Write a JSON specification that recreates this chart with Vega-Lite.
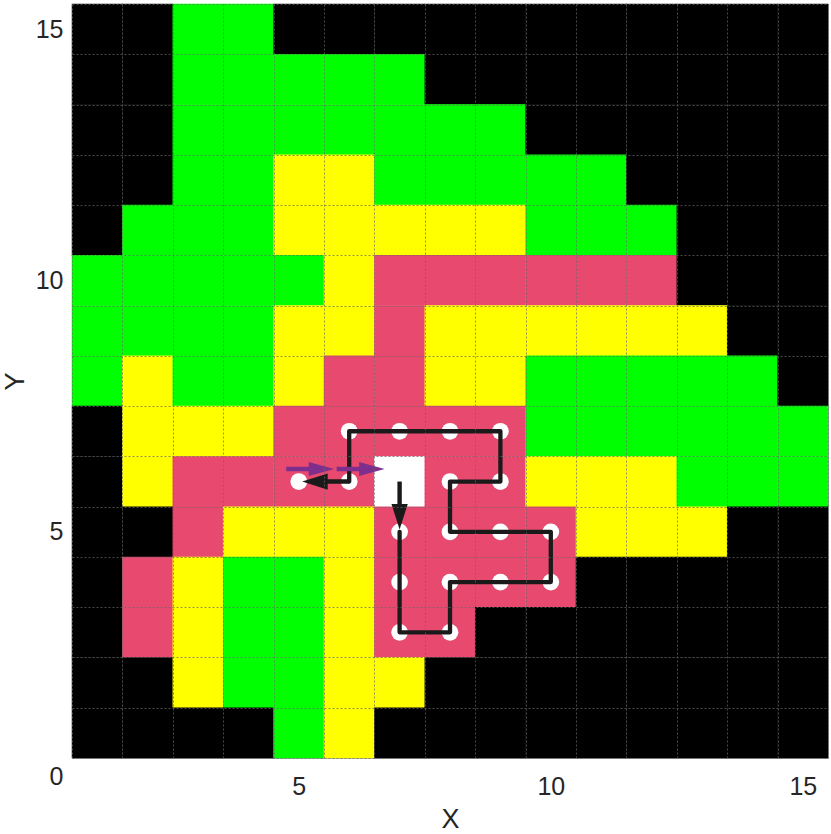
{
"$schema": "https://vega.github.io/schema/vega-lite/v6.json",
"width": 756, "height": 754,
"autosize": {"type": "none"},
"padding": {"left": 72, "top": 4, "right": 3, "bottom": 76},
"background": "white",
"config": {"view": {"stroke": "#a8a8a8", "strokeWidth": 1}, "font": "Liberation Sans"},
"datasets": {
"cells": [
{"x":1,"y":15,"c":"B"},{"x":2,"y":15,"c":"B"},{"x":3,"y":15,"c":"G"},{"x":4,"y":15,"c":"G"},{"x":5,"y":15,"c":"B"},{"x":6,"y":15,"c":"B"},{"x":7,"y":15,"c":"B"},{"x":8,"y":15,"c":"B"},{"x":9,"y":15,"c":"B"},{"x":10,"y":15,"c":"B"},{"x":11,"y":15,"c":"B"},{"x":12,"y":15,"c":"B"},{"x":13,"y":15,"c":"B"},{"x":14,"y":15,"c":"B"},{"x":15,"y":15,"c":"B"},
{"x":1,"y":14,"c":"B"},{"x":2,"y":14,"c":"B"},{"x":3,"y":14,"c":"G"},{"x":4,"y":14,"c":"G"},{"x":5,"y":14,"c":"G"},{"x":6,"y":14,"c":"G"},{"x":7,"y":14,"c":"G"},{"x":8,"y":14,"c":"B"},{"x":9,"y":14,"c":"B"},{"x":10,"y":14,"c":"B"},{"x":11,"y":14,"c":"B"},{"x":12,"y":14,"c":"B"},{"x":13,"y":14,"c":"B"},{"x":14,"y":14,"c":"B"},{"x":15,"y":14,"c":"B"},
{"x":1,"y":13,"c":"B"},{"x":2,"y":13,"c":"B"},{"x":3,"y":13,"c":"G"},{"x":4,"y":13,"c":"G"},{"x":5,"y":13,"c":"G"},{"x":6,"y":13,"c":"G"},{"x":7,"y":13,"c":"G"},{"x":8,"y":13,"c":"G"},{"x":9,"y":13,"c":"G"},{"x":10,"y":13,"c":"B"},{"x":11,"y":13,"c":"B"},{"x":12,"y":13,"c":"B"},{"x":13,"y":13,"c":"B"},{"x":14,"y":13,"c":"B"},{"x":15,"y":13,"c":"B"},
{"x":1,"y":12,"c":"B"},{"x":2,"y":12,"c":"B"},{"x":3,"y":12,"c":"G"},{"x":4,"y":12,"c":"G"},{"x":5,"y":12,"c":"Y"},{"x":6,"y":12,"c":"Y"},{"x":7,"y":12,"c":"G"},{"x":8,"y":12,"c":"G"},{"x":9,"y":12,"c":"G"},{"x":10,"y":12,"c":"G"},{"x":11,"y":12,"c":"G"},{"x":12,"y":12,"c":"B"},{"x":13,"y":12,"c":"B"},{"x":14,"y":12,"c":"B"},{"x":15,"y":12,"c":"B"},
{"x":1,"y":11,"c":"B"},{"x":2,"y":11,"c":"G"},{"x":3,"y":11,"c":"G"},{"x":4,"y":11,"c":"G"},{"x":5,"y":11,"c":"Y"},{"x":6,"y":11,"c":"Y"},{"x":7,"y":11,"c":"Y"},{"x":8,"y":11,"c":"Y"},{"x":9,"y":11,"c":"Y"},{"x":10,"y":11,"c":"G"},{"x":11,"y":11,"c":"G"},{"x":12,"y":11,"c":"G"},{"x":13,"y":11,"c":"B"},{"x":14,"y":11,"c":"B"},{"x":15,"y":11,"c":"B"},
{"x":1,"y":10,"c":"G"},{"x":2,"y":10,"c":"G"},{"x":3,"y":10,"c":"G"},{"x":4,"y":10,"c":"G"},{"x":5,"y":10,"c":"G"},{"x":6,"y":10,"c":"Y"},{"x":7,"y":10,"c":"R"},{"x":8,"y":10,"c":"R"},{"x":9,"y":10,"c":"R"},{"x":10,"y":10,"c":"R"},{"x":11,"y":10,"c":"R"},{"x":12,"y":10,"c":"R"},{"x":13,"y":10,"c":"B"},{"x":14,"y":10,"c":"B"},{"x":15,"y":10,"c":"B"},
{"x":1,"y":9,"c":"G"},{"x":2,"y":9,"c":"G"},{"x":3,"y":9,"c":"G"},{"x":4,"y":9,"c":"G"},{"x":5,"y":9,"c":"Y"},{"x":6,"y":9,"c":"Y"},{"x":7,"y":9,"c":"R"},{"x":8,"y":9,"c":"Y"},{"x":9,"y":9,"c":"Y"},{"x":10,"y":9,"c":"Y"},{"x":11,"y":9,"c":"Y"},{"x":12,"y":9,"c":"Y"},{"x":13,"y":9,"c":"Y"},{"x":14,"y":9,"c":"B"},{"x":15,"y":9,"c":"B"},
{"x":1,"y":8,"c":"G"},{"x":2,"y":8,"c":"Y"},{"x":3,"y":8,"c":"G"},{"x":4,"y":8,"c":"G"},{"x":5,"y":8,"c":"Y"},{"x":6,"y":8,"c":"R"},{"x":7,"y":8,"c":"R"},{"x":8,"y":8,"c":"Y"},{"x":9,"y":8,"c":"Y"},{"x":10,"y":8,"c":"G"},{"x":11,"y":8,"c":"G"},{"x":12,"y":8,"c":"G"},{"x":13,"y":8,"c":"G"},{"x":14,"y":8,"c":"G"},{"x":15,"y":8,"c":"B"},
{"x":1,"y":7,"c":"B"},{"x":2,"y":7,"c":"Y"},{"x":3,"y":7,"c":"Y"},{"x":4,"y":7,"c":"Y"},{"x":5,"y":7,"c":"R"},{"x":6,"y":7,"c":"R"},{"x":7,"y":7,"c":"R"},{"x":8,"y":7,"c":"R"},{"x":9,"y":7,"c":"R"},{"x":10,"y":7,"c":"G"},{"x":11,"y":7,"c":"G"},{"x":12,"y":7,"c":"G"},{"x":13,"y":7,"c":"G"},{"x":14,"y":7,"c":"G"},{"x":15,"y":7,"c":"G"},
{"x":1,"y":6,"c":"B"},{"x":2,"y":6,"c":"Y"},{"x":3,"y":6,"c":"R"},{"x":4,"y":6,"c":"R"},{"x":5,"y":6,"c":"R"},{"x":6,"y":6,"c":"R"},{"x":7,"y":6,"c":"W"},{"x":8,"y":6,"c":"R"},{"x":9,"y":6,"c":"R"},{"x":10,"y":6,"c":"Y"},{"x":11,"y":6,"c":"Y"},{"x":12,"y":6,"c":"Y"},{"x":13,"y":6,"c":"G"},{"x":14,"y":6,"c":"G"},{"x":15,"y":6,"c":"G"},
{"x":1,"y":5,"c":"B"},{"x":2,"y":5,"c":"B"},{"x":3,"y":5,"c":"R"},{"x":4,"y":5,"c":"Y"},{"x":5,"y":5,"c":"Y"},{"x":6,"y":5,"c":"Y"},{"x":7,"y":5,"c":"R"},{"x":8,"y":5,"c":"R"},{"x":9,"y":5,"c":"R"},{"x":10,"y":5,"c":"R"},{"x":11,"y":5,"c":"Y"},{"x":12,"y":5,"c":"Y"},{"x":13,"y":5,"c":"Y"},{"x":14,"y":5,"c":"B"},{"x":15,"y":5,"c":"B"},
{"x":1,"y":4,"c":"B"},{"x":2,"y":4,"c":"R"},{"x":3,"y":4,"c":"Y"},{"x":4,"y":4,"c":"G"},{"x":5,"y":4,"c":"G"},{"x":6,"y":4,"c":"Y"},{"x":7,"y":4,"c":"R"},{"x":8,"y":4,"c":"R"},{"x":9,"y":4,"c":"R"},{"x":10,"y":4,"c":"R"},{"x":11,"y":4,"c":"B"},{"x":12,"y":4,"c":"B"},{"x":13,"y":4,"c":"B"},{"x":14,"y":4,"c":"B"},{"x":15,"y":4,"c":"B"},
{"x":1,"y":3,"c":"B"},{"x":2,"y":3,"c":"R"},{"x":3,"y":3,"c":"Y"},{"x":4,"y":3,"c":"G"},{"x":5,"y":3,"c":"G"},{"x":6,"y":3,"c":"Y"},{"x":7,"y":3,"c":"R"},{"x":8,"y":3,"c":"R"},{"x":9,"y":3,"c":"B"},{"x":10,"y":3,"c":"B"},{"x":11,"y":3,"c":"B"},{"x":12,"y":3,"c":"B"},{"x":13,"y":3,"c":"B"},{"x":14,"y":3,"c":"B"},{"x":15,"y":3,"c":"B"},
{"x":1,"y":2,"c":"B"},{"x":2,"y":2,"c":"B"},{"x":3,"y":2,"c":"Y"},{"x":4,"y":2,"c":"G"},{"x":5,"y":2,"c":"G"},{"x":6,"y":2,"c":"Y"},{"x":7,"y":2,"c":"Y"},{"x":8,"y":2,"c":"B"},{"x":9,"y":2,"c":"B"},{"x":10,"y":2,"c":"B"},{"x":11,"y":2,"c":"B"},{"x":12,"y":2,"c":"B"},{"x":13,"y":2,"c":"B"},{"x":14,"y":2,"c":"B"},{"x":15,"y":2,"c":"B"},
{"x":1,"y":1,"c":"B"},{"x":2,"y":1,"c":"B"},{"x":3,"y":1,"c":"B"},{"x":4,"y":1,"c":"B"},{"x":5,"y":1,"c":"G"},{"x":6,"y":1,"c":"Y"},{"x":7,"y":1,"c":"B"},{"x":8,"y":1,"c":"B"},{"x":9,"y":1,"c":"B"},{"x":10,"y":1,"c":"B"},{"x":11,"y":1,"c":"B"},{"x":12,"y":1,"c":"B"},{"x":13,"y":1,"c":"B"},{"x":14,"y":1,"c":"B"},{"x":15,"y":1,"c":"B"}
],
"route": [
{"i":0,"x":7,"y":6},{"i":1,"x":7,"y":5},{"i":2,"x":7,"y":4},{"i":3,"x":7,"y":3},{"i":4,"x":8,"y":3},{"i":5,"x":8,"y":4},{"i":6,"x":9,"y":4},{"i":7,"x":10,"y":4},{"i":8,"x":10,"y":5},{"i":9,"x":9,"y":5},{"i":10,"x":8,"y":5},{"i":11,"x":8,"y":6},{"i":12,"x":9,"y":6},{"i":13,"x":9,"y":7},{"i":14,"x":8,"y":7},{"i":15,"x":7,"y":7},{"i":16,"x":6,"y":7},{"i":17,"x":6,"y":6},{"i":18,"x":5,"y":6}
],
"arrows": [
{"kind":"route","dir":"down","x":7,"y":6,"x2":7,"y2":5.25},
{"kind":"route","dir":"left","x":6,"y":6,"x2":5.27,"y2":6},
{"kind":"heading","dir":"right","x":4.75,"y":6.25,"x2":5.5,"y2":6.25},
{"kind":"heading","dir":"right","x":5.75,"y":6.25,"x2":6.5,"y2":6.25}
]
},
"layer": [
{
"data": {"name": "cells"},
"mark": {"type": "rect", "width": 50.9, "height": 50.8},
"encoding": {
"x": {"field": "x", "type": "quantitative", "title": "X",
 "scale": {"domain": [0.5, 15.5], "nice": false, "zero": false},
 "axis": {"values": [0.5,1.5,2.5,3.5,4.5,5.5,6.5,7.5,8.5,9.5,10.5,11.5,12.5,13.5,14.5,15.5,5,10,15],
  "labelExpr": "datum.value % 1 === 0 ? '' + datum.value : ''",
  "domain": false, "ticks": false, "tickSize": 0, "labelPadding": 16, "labelAngle": 0,
  "labelFlush": false, "labelOverlap": false, "labelBound": false,
  "labelFontSize": 25, "labelColor": "#262626", "labelFont": "Liberation Sans",
  "titleFontSize": 27, "titleFontWeight": "normal", "titleColor": "#262626", "titleFont": "Liberation Sans", "titlePadding": 7,
  "grid": true, "gridColor": "#666666", "gridDash": [2, 2], "gridWidth": 1,
  "gridOpacity": {"condition": {"test": "datum.value % 1 === 0", "value": 0}, "value": 0.7},
  "zindex": 1}},
"y": {"field": "y", "type": "quantitative", "title": "Y",
 "scale": {"domain": [0.5, 15.5], "nice": false, "zero": false},
 "axis": {"values": [0.5,1.5,2.5,3.5,4.5,5.5,6.5,7.5,8.5,9.5,10.5,11.5,12.5,13.5,14.5,15.5,5,10,15],
  "labelExpr": "datum.value === 0.5 ? '0' : (datum.value % 1 === 0 ? '' + datum.value : '')",
  "domain": false, "ticks": false, "tickSize": 0, "labelPadding": 9,
  "labelOffset": {"condition": {"test": "datum.value === 0.5", "value": 18}, "value": 0},
  "labelFlush": false, "labelOverlap": false, "labelBound": false,
  "labelFontSize": 25, "labelColor": "#262626", "labelFont": "Liberation Sans",
  "titleFontSize": 27, "titleFontWeight": "normal", "titleColor": "#262626", "titleFont": "Liberation Sans", "titlePadding": 6,
  "grid": true, "gridColor": "#666666", "gridDash": [2, 2], "gridWidth": 1,
  "gridOpacity": {"condition": {"test": "datum.value % 1 === 0", "value": 0}, "value": 0.7},
  "zindex": 1}},
"color": {"field": "c", "type": "nominal", "legend": null,
 "scale": {"domain": ["B", "G", "Y", "R", "W"], "range": ["#000000", "#00ff00", "#ffff00", "#e84a6f", "#ffffff"]}}
}
},
{
"data": {"name": "route"},
"transform": [{"filter": "datum.i > 0"}],
"mark": {"type": "point", "shape": "circle", "filled": true, "color": "#ffffff", "size": 280, "opacity": 1},
"encoding": {"x": {"field": "x", "type": "quantitative"}, "y": {"field": "y", "type": "quantitative"}}
},
{
"data": {"name": "route"},
"transform": [{"filter": "datum.i >= 1 && datum.i <= 17"}],
"mark": {"type": "line", "color": "#1a1a1a", "strokeWidth": 4.3, "strokeCap": "round", "strokeJoin": "round"},
"encoding": {"x": {"field": "x", "type": "quantitative"}, "y": {"field": "y", "type": "quantitative"}, "order": {"field": "i", "type": "quantitative"}}
},
{
"data": {"name": "arrows"},
"mark": {"type": "rule", "strokeWidth": 4.4, "strokeCap": "butt"},
"encoding": {
"x": {"field": "x", "type": "quantitative"}, "y": {"field": "y", "type": "quantitative"},
"x2": {"field": "x2"}, "y2": {"field": "y2"},
"color": {"field": "kind", "type": "nominal", "legend": null, "scale": {"domain": ["route", "heading"], "range": ["#1a1a1a", "#7e2f8e"]}}
}
},
{
"data": {"name": "arrows"},
"mark": {"type": "point", "filled": true, "opacity": 1, "size": 650, "strokeWidth": 0},
"encoding": {
"x": {"field": "x2", "type": "quantitative"}, "y": {"field": "y2", "type": "quantitative"},
"shape": {"field": "dir", "type": "nominal", "legend": null, "scale": {"domain": ["down", "left", "right"], "range": ["M0,0.8L-0.64,-1.2L0.64,-1.2Z", "M-0.8,0L1.2,-0.64L1.2,0.64Z", "M0.8,0L-1.2,-0.55L-1.2,0.55Z"]}},
"color": {"field": "kind", "type": "nominal", "legend": null, "scale": {"domain": ["route", "heading"], "range": ["#1a1a1a", "#7e2f8e"]}}
}
}
],
"resolve": {"scale": {"color": "independent"}}
}
